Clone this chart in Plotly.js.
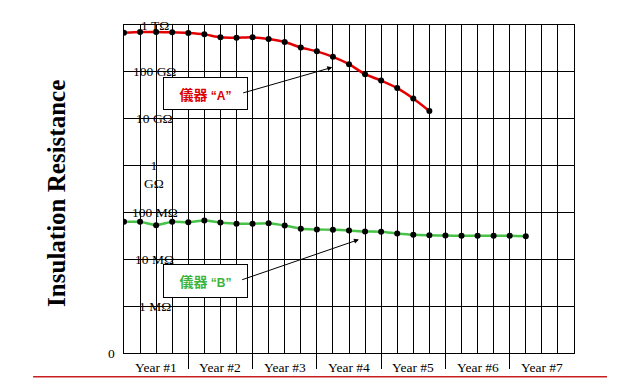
<!DOCTYPE html>
<html>
<head>
<meta charset="utf-8">
<script src="https://cdn.plot.ly/plotly-3.0.1.min.js"></script>
<style>html,body{margin:0;padding:0;background:#fff;}#chart{width:627px;height:392px;}</style>
</head>
<body>
<div id="chart"></div>
<script>
// Quarter index (4 quarters per year, 7 years)
var quartersA = [0,1,2,3,4,5,6,7,8,9,10,11,12,13,14,15,16,17,18,19];
// Instrument "A" insulation resistance (ohms)
var valuesA = [6.84e11,7.08e11,7.08e11,6.98e11,6.76e11,6.31e11,5.46e11,5.35e11,5.46e11,5.01e11,
               4.32e11,3.31e11,2.74e11,2.09e11,1.46e11,8.9e10,6.5e10,4.5e10,2.7e10,1.46e10];
var quartersB = [0,1,2,3,4,5,6,7,8,9,10,11,12,13,14,15,16,17,18,19,20,21,22,23,24,25];
// Instrument "B" insulation resistance (ohms)
var valuesB = [6.3e7,6.3e7,5.35e7,6.3e7,6.2e7,6.74e7,6.1e7,5.73e7,5.73e7,5.9e7,
               5.27e7,4.48e7,4.33e7,4.26e7,4.12e7,3.92e7,3.86e7,3.55e7,3.33e7,3.26e7,
               3.21e7,3.17e7,3.17e7,3.17e7,3.17e7,3.10e7];
var yearLabels = ["Year #1","Year #2","Year #3","Year #4","Year #5","Year #6","Year #7"];
var yearCenters = [2,6,10,14,18,22,26];
var yearBoundaries = [4,8,12,16,20,24];
var yTickVals = [1e12,1e11,1e10,1e9,1e8,1e7,1e6,1e5];
var yTickText = ["1 T\u03A9","100 G\u03A9","10 G\u03A9","1<br>G\u03A9","100 M\u03A9","10 M\u03A9","1 M\u03A9","0"];

var serif = "Liberation Serif, Times New Roman, serif";

var traces = [
  {x: quartersA, y: valuesA, type:'scatter', mode:'lines+markers',
   line:{color:'rgb(228,0,0)', width:2.5, shape:'spline', smoothing:0.6},
   marker:{color:'black', size:6}, hoverinfo:'none'},
  {x: quartersB, y: valuesB, type:'scatter', mode:'lines+markers',
   line:{color:'rgb(70,195,70)', width:2.5, shape:'spline', smoothing:0.6},
   marker:{color:'black', size:6}, hoverinfo:'none'}
];

var annotations = [];
// y tick labels drawn inside plot
for (var i=0;i<yTickVals.length;i++){
  var t = yTickText[i];
  if (t === "0") {
    annotations.push({xref:'paper', yref:'y', x:-0.016, y:Math.log10(yTickVals[i]), text:t,
      showarrow:false, xanchor:'right', yanchor:'middle', font:{family:serif,size:13.5,color:'black'}});
  } else if (t.indexOf('<br>')>=0) {
    annotations.push({xref:'x', yref:'y', x:1.85, y:Math.log10(yTickVals[i]), text:t, yshift:-9,
      showarrow:false, xanchor:'center', yanchor:'middle', font:{family:serif,size:13.5,color:'black'}});
  } else {
    annotations.push({xref:'x', yref:'y', x:1.9, y:Math.log10(yTickVals[i]), text:t,
      showarrow:false, xanchor:'center', yanchor:'middle', font:{family:serif,size:13.5,color:'black'}});
  }
}
// year labels
for (var j=0;j<yearLabels.length;j++){
  annotations.push({xref:'x', yref:'paper', x:yearCenters[j], y:-0.043, text:yearLabels[j],
    showarrow:false, xanchor:'center', yanchor:'middle', font:{family:serif,size:13.5,color:'black'}});
}
// y title
annotations.push({xref:'paper', yref:'paper', x:-0.149, y:0.488, text:'<b>Insulation Resistance</b>',
  textangle:-90, showarrow:false, xanchor:'center', yanchor:'middle',
  font:{family:serif,size:25,color:'black'}});
// callout boxes
var cjk = "Noto Sans CJK TC, Noto Sans CJK SC, sans-serif";
annotations.push({xref:'x', yref:'y', x:5.09, y:Math.log10(3.4e10), showarrow:false,
  text:'<b>儀器</b> <span style="font-family:Liberation Sans, Arial;font-size:12px"><b>\u201CA\u201D</b></span>',
  font:{family:cjk,size:14,color:'rgb(220,0,0)'}, bgcolor:'white', bordercolor:'black', borderwidth:1,
  width:81, height:29, xanchor:'center', yanchor:'middle'});
annotations.push({xref:'x', yref:'y', x:5.09, y:Math.log10(3.41e6), showarrow:false,
  text:'<b>儀器</b> <span style="font-family:Liberation Sans, Arial;font-size:12px"><b>\u201CB\u201D</b></span>',
  font:{family:cjk,size:14,color:'rgb(60,180,60)'}, bgcolor:'white', bordercolor:'black', borderwidth:1,
  width:81, height:30, xanchor:'center', yanchor:'middle'});
// arrows
annotations.push({xref:'x', yref:'y', x:12.96, y:Math.log10(1.25e11), text:'', showarrow:true,
  ax:-90.6, ay:26, arrowhead:2, arrowsize:1, arrowwidth:1, arrowcolor:'black', standoff:0});
annotations.push({xref:'x', yref:'y', x:14.62, y:Math.log10(2.64e7), text:'', showarrow:true,
  ax:-118.3, ay:40.7, arrowhead:2, arrowsize:1, arrowwidth:1, arrowcolor:'black', standoff:0});

var layout = {
  width:627, height:392,
  margin:{l:124, r:53, t:25, b:39},
  paper_bgcolor:'white', plot_bgcolor:'white',
  showlegend:false,
  xaxis:{range:[0,28], tickmode:'array', tickvals:yearBoundaries, showticklabels:false,
    ticks:'outside', ticklen:15, tickwidth:1, tickcolor:'black',
    showgrid:true, gridcolor:'black', gridwidth:1, zeroline:false,
    showline:true, mirror:true, linecolor:'black', linewidth:1,
    minor:{tickmode:'linear', tick0:0, dtick:1, showgrid:true, gridcolor:'black', gridwidth:1, ticks:''}},
  yaxis:{type:'log', range:[5,12], tickmode:'array', tickvals:yTickVals, showticklabels:false,
    ticks:'', showgrid:true, gridcolor:'black', gridwidth:1, zeroline:false,
    showline:true, mirror:true, linecolor:'black', linewidth:1},
  annotations: annotations,
  shapes:[{type:'line', xref:'paper', yref:'paper', x0:-0.202, x1:1.0733, y0:-0.0723, y1:-0.0723,
    line:{color:'rgb(200,30,30)', width:1.5}}]
};

Plotly.newPlot('chart', traces, layout, {staticPlot:true, displayModeBar:false});
</script>
</body>
</html>
